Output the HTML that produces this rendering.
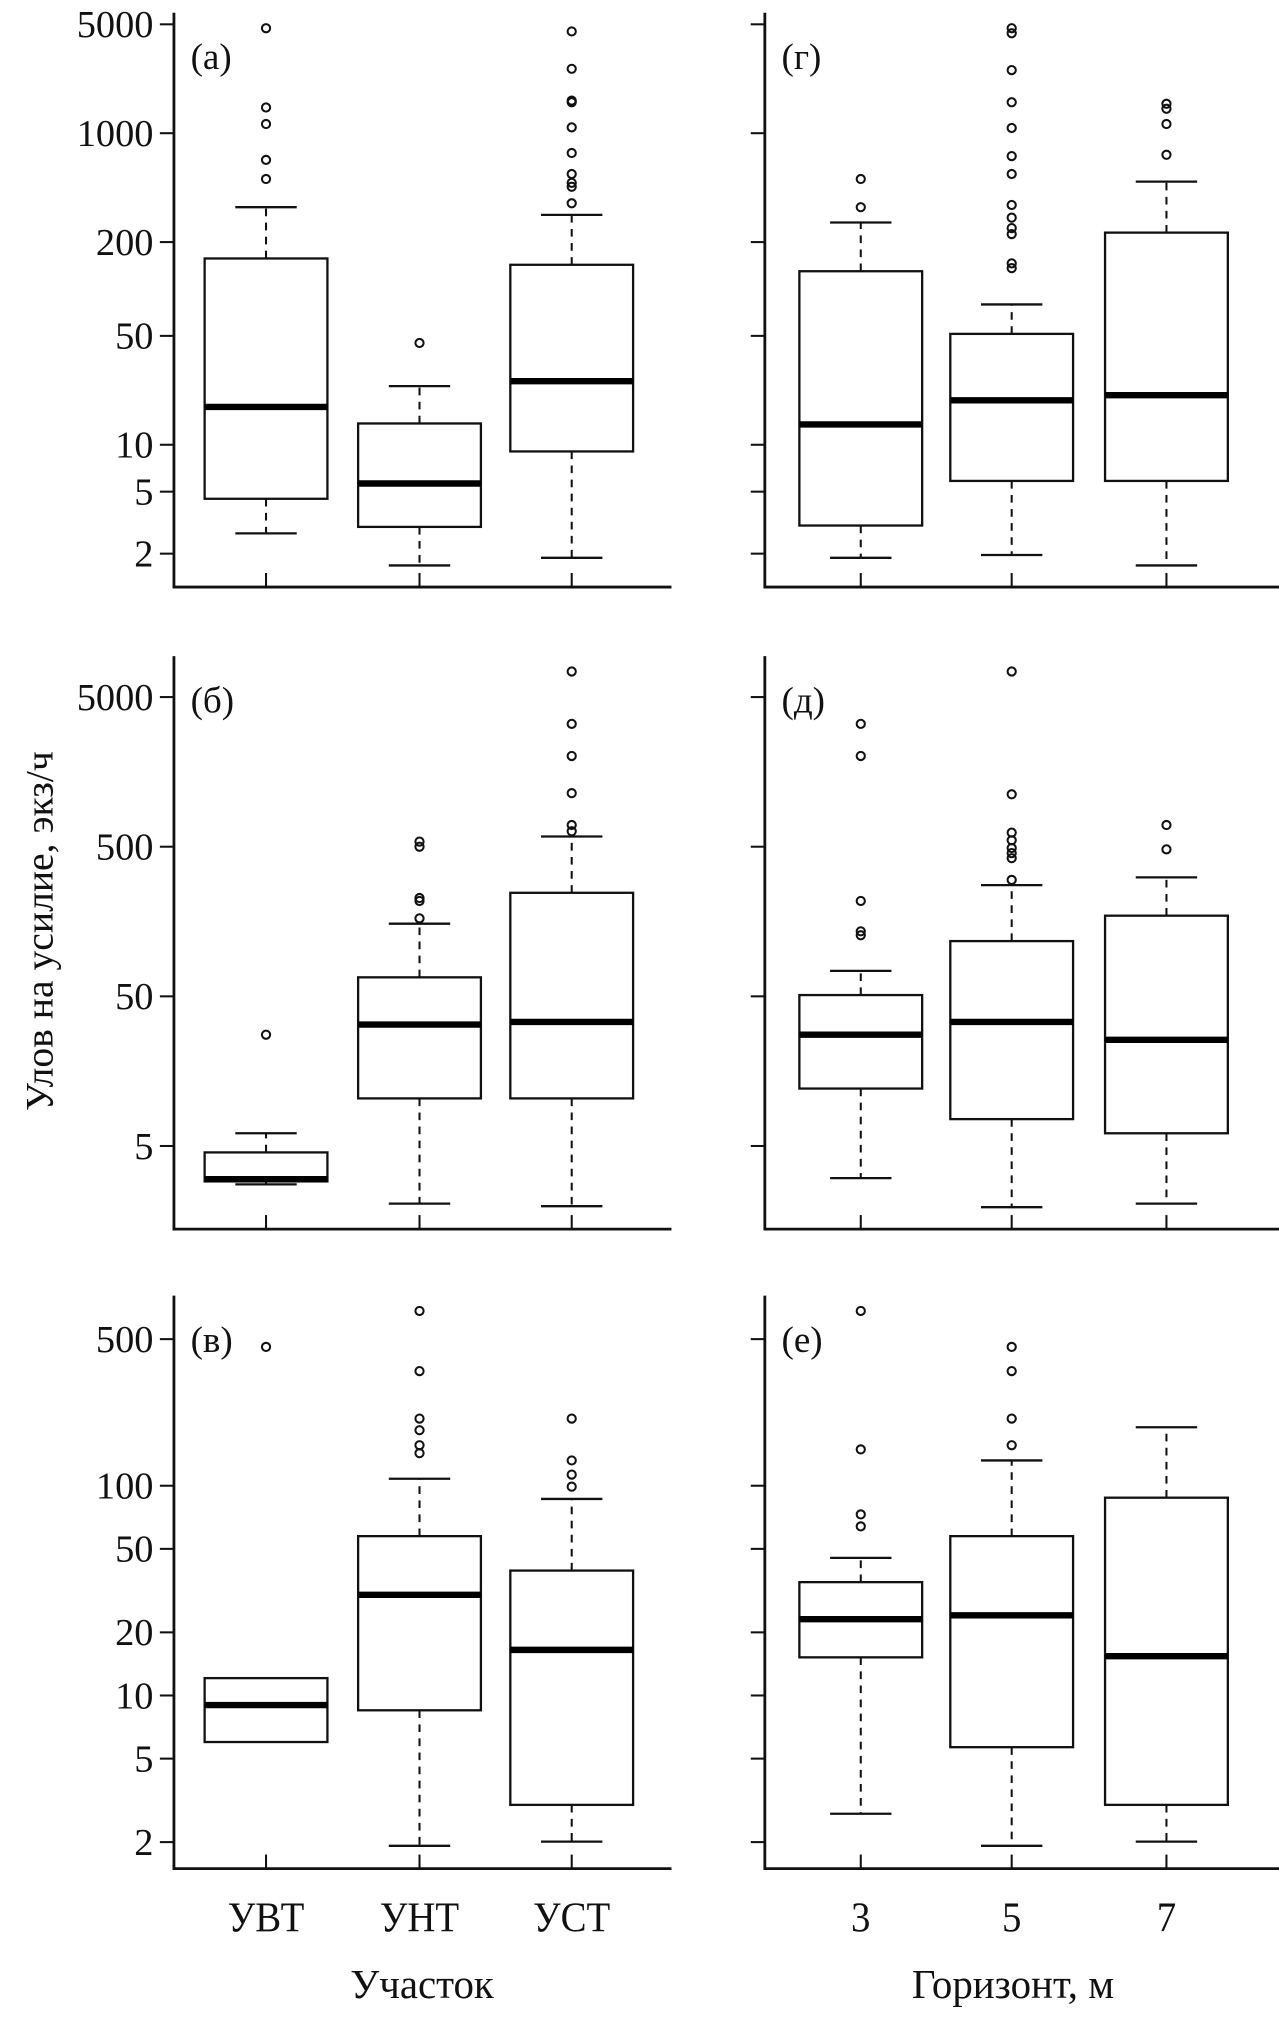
<!DOCTYPE html>
<html><head><meta charset="utf-8">
<style>
html,body{margin:0;padding:0;background:#fff;}
svg{display:block;}
text{font-family:"Liberation Serif",serif;fill:#111;}
</style></head>
<body>
<svg id="chart" width="1279" height="2028" viewBox="0 0 1000 1585.6" xmlns="http://www.w3.org/2000/svg"></svg>
<script>
// ----- data -----
const leftCats = ["УВТ","УНТ","УСТ"];
const rightCats = ["3","5","7"];
const ticksRow1 = [5000,1000,200,50,10,5,2];
const ticksRow2 = [5000,500,50,5];
const ticksRow3 = [500,100,50,20,10,5,2];
// each box: [low whisker, q1, median, q3, high whisker]
const boxesA = [[2.7,4.5,17.5,157,335],[1.68,2.97,5.64,13.7,23.8],[1.88,9.06,25.6,143,299]];
const outA = [[4720,1462,1145,674,508],[45],[4500,2590,1620,1580,1090,746,547,480,453,355]];
const boxesG = [[1.88,3.03,13.5,130,267],[1.96,5.86,19.3,51.5,79.6],[1.68,5.86,20.8,230,489]];
const outG = [[508,335],[4720,4380,2540,1580,1080,713,547,346,287,246,225,146,136],[1545,1435,1145,727]];
const boxesB = [[2.77,2.9,3.0,4.53,6.08],[2.06,10.4,32.4,67,153],[1.98,10.4,33.7,246,585]];
const outB = [[27.7],[541,500,227,217,166],[7410,3310,2020,1140,698,634]];
const boxesD = [[3.05,12.1,27.7,51,74],[1.95,7.56,33.7,117,277],[2.06,6.08,25.6,173,312]];
const outD = [[3310,2020,217,136,128],[7410,1120,621,552,490,453,419,300],[698,480]];
const boxesV = [[6.0,6.0,9.0,12.1,12.1],[1.92,8.5,30.2,57.5,108],[2.01,3.01,16.5,39.4,86.5]];
const outV = [[459],[681,352,209,184,156,143],[209,132,113,99]];
const boxesE = [[2.73,15.2,23.1,34.7,45.3],[1.92,5.67,24.1,57.5,132],[2.01,3.01,15.4,87.7,190]];
const outE = [[681,149,73,64],[459,352,209,156],[]];

const svg = document.getElementById('chart');
const NS = "http://www.w3.org/2000/svg";
function mk(tag, attrs, parent){
  const e = document.createElementNS(NS, tag);
  for (const k in attrs) e.setAttribute(k, attrs[k]);
  (parent||svg).appendChild(e);
  return e;
}
function logScale(refV, refY, pxPerDec){
  return v => refY + (Math.log10(refV) - Math.log10(v)) * pxPerDec;
}
const rows = [
  {top:10, bottom:459, y:logScale(5000,19,121.8), ticks:ticksRow1},
  {top:513, bottom:961, y:logScale(5000,545,117), ticks:ticksRow2},
  {top:1013, bottom:1461, y:logScale(500,1047,164), ticks:ticksRow3}
];
const leftX = [208,328,447];
const rightX = [673,791,912];

function panel(row, axX, axEnd, xs, boxes, outs, label, showTickLabels, name){
  const g = mk('g', {});
  
  
  const ya = mk('line', {x1:axX, y1:row.top, x2:axX, y2:row.bottom+1, stroke:'#111','stroke-width':2.2}, g);
  
  
  const xa = mk('line', {x1:axX-1, y1:row.bottom, x2:axEnd, y2:row.bottom, stroke:'#111','stroke-width':2.2}, g);
  
  
  row.ticks.forEach(t => {
    const y = row.y(t);
    const tk = mk('line', {x1:axX-11, y1:y, x2:axX, y2:y, stroke:'#111','stroke-width':1.6}, g);
    
    
    if (showTickLabels){
      const tl = mk('text', {x:axX-16, y:y+10, 'text-anchor':'end','font-size':30}, g);
      tl.textContent = t;
      
      
    }
  });
  const pl = mk('text', {x:axX+13, y:row.top+44, 'font-size':29}, g);
  pl.textContent = label;
  
  
  xs.forEach((cx, i) => {
    const b = boxes[i];
    const ct = mk('line', {x1:cx, y1:row.bottom-11, x2:cx, y2:row.bottom, stroke:'#111','stroke-width':1.6}, g);
    
    
    const yl = row.y(b[0]), q1 = row.y(b[1]), md = row.y(b[2]), q3 = row.y(b[3]), yh = row.y(b[4]);
    const wl = mk('line', {x1:cx, y1:q1, x2:cx, y2:yl, stroke:'#111','stroke-width':1.6,'stroke-dasharray':'6,5'}, g);
    
    
    const wh = mk('line', {x1:cx, y1:q3, x2:cx, y2:yh, stroke:'#111','stroke-width':1.6,'stroke-dasharray':'6,5'}, g);
    
    
    if (yl - q1 > 0.5){
      const cl = mk('line', {x1:cx-24, y1:yl, x2:cx+24, y2:yl, stroke:'#111','stroke-width':1.8}, g);
      
      
    }
    if (q3 - yh > 0.5){
      const ch = mk('line', {x1:cx-24, y1:yh, x2:cx+24, y2:yh, stroke:'#111','stroke-width':1.8}, g);
      
      
    }
    const rect = mk('rect', {x:cx-48, y:q3, width:96, height:q1-q3, fill:'#fff', stroke:'#111','stroke-width':1.8}, g);
    
    
    const med = mk('line', {x1:cx-48, y1:md, x2:cx+48, y2:md, stroke:'#000','stroke-width':5}, g);
    
    
    outs[i].forEach(v => {
      const c = mk('circle', {cx:cx, cy:row.y(v), r:3.2, fill:'none', stroke:'#111','stroke-width':1.6}, g);
      
      
    });
  });
}
panel(rows[0],136,525,leftX,boxesA,outA,"(а)",true,"panel-a");
panel(rows[0],598,1000,rightX,boxesG,outG,"(г)",false,"panel-g");
panel(rows[1],136,525,leftX,boxesB,outB,"(б)",true,"panel-b");
panel(rows[1],598,1000,rightX,boxesD,outD,"(д)",false,"panel-d");
panel(rows[2],136,525,leftX,boxesV,outV,"(в)",true,"panel-v");
panel(rows[2],598,1000,rightX,boxesE,outE,"(е)",false,"panel-e");

leftCats.forEach((c,i) => {
  const t = mk('text', {x:0, y:0, 'text-anchor':'middle','font-size':33, transform:'translate('+leftX[i]+',1510) scale(0.92,1)'});
  t.textContent = c;
  
  
});
rightCats.forEach((c,i) => {
  const t = mk('text', {x:0, y:0, 'text-anchor':'middle','font-size':33, transform:'translate('+rightX[i]+',1510) scale(0.92,1)'});
  t.textContent = c;
  
  
});
const xt1 = mk('text', {x:330, y:1562, 'text-anchor':'middle','font-size':32});
xt1.textContent = "Участок";


const xt2 = mk('text', {x:792, y:1562, 'text-anchor':'middle','font-size':32});
xt2.textContent = "Горизонт, м";


const yt = mk('text', {x:0, y:0, 'text-anchor':'middle','font-size':31, transform:'translate(41,728) rotate(-90)'});
yt.textContent = "Улов на усилие, экз/ч";


</script>
</body></html>
